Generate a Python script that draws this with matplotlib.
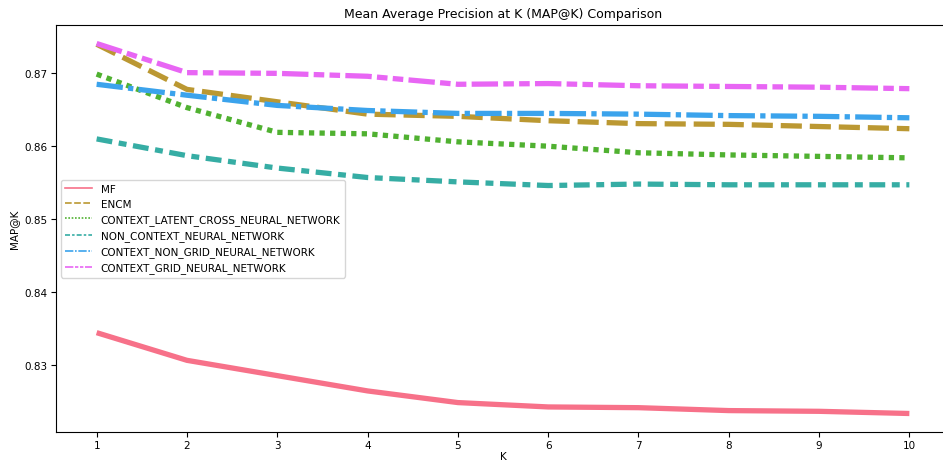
import numpy as np
import matplotlib
matplotlib.use("Agg")
import matplotlib.pyplot as plt
import seaborn as sns
from matplotlib.lines import Line2D

# データ (MAP@K)
k = [1, 2, 3, 4, 5, 6, 7, 8, 9, 10]
mf = [0.8344, 0.8306, 0.8285, 0.8264, 0.8248, 0.8242, 0.8241, 0.8237, 0.8236, 0.8233]
encm = [0.8740, 0.8678, 0.8661, 0.8644, 0.8641, 0.8635, 0.8631, 0.8630, 0.8627, 0.8624]
latent_cross = [0.8699, 0.8653, 0.8619, 0.8617, 0.8606, 0.8600, 0.8591, 0.8588, 0.8586, 0.8584]
non_context = [0.8610, 0.8587, 0.8570, 0.8557, 0.8551, 0.8546, 0.8548, 0.8547, 0.8547, 0.8547]
non_grid = [0.8685, 0.8670, 0.8656, 0.8649, 0.8645, 0.8645, 0.8644, 0.8642, 0.8641, 0.8639]
grid = [0.8741, 0.8701, 0.8700, 0.8696, 0.8685, 0.8686, 0.8683, 0.8682, 0.8681, 0.8679]

names = ["MF", "ENCM", "CONTEXT_LATENT_CROSS_NEURAL_NETWORK", "NON_CONTEXT_NEURAL_NETWORK",
         "CONTEXT_NON_GRID_NEURAL_NETWORK", "CONTEXT_GRID_NEURAL_NETWORK"]
series = [mf, encm, latent_cross, non_context, non_grid, grid]

colors = sns.color_palette("husl", 6)
dashes = [None, (4, 1.5), (1, 1), (3, 1.25, 1.5, 1.25), (5, 1, 1, 1), (5, 1, 2, 1, 2, 1)]

fig = plt.figure(figsize=(9.43, 4.64), dpi=100)
ax = fig.add_axes([56 / 943, 31 / 464, 894 / 943, 407 / 464])

handles = []
for name, vals, c, d in zip(names, series, colors, dashes):
    line, = ax.plot(k, vals, color=c, lw=3.8, solid_capstyle="butt")
    h = Line2D([], [], color=c, lw=1.2)
    if d is not None:
        line.set_dashes(d)
        h.set_dashes(d)
    handles.append(h)

ax.set_xticks(k)
ax.tick_params(labelsize=7.5, pad=2.5)
ax.set_xlabel("K", fontsize=7.5, labelpad=0.5)
ax.set_ylabel("MAP@K", fontsize=7.5)
ax.set_title("Mean Average Precision at K (MAP@K) Comparison", fontsize=9, pad=6)
ax.legend(handles, names, loc="center left", fontsize=7.5, handlelength=2.6)

fig.savefig("out.png", dpi=100)
